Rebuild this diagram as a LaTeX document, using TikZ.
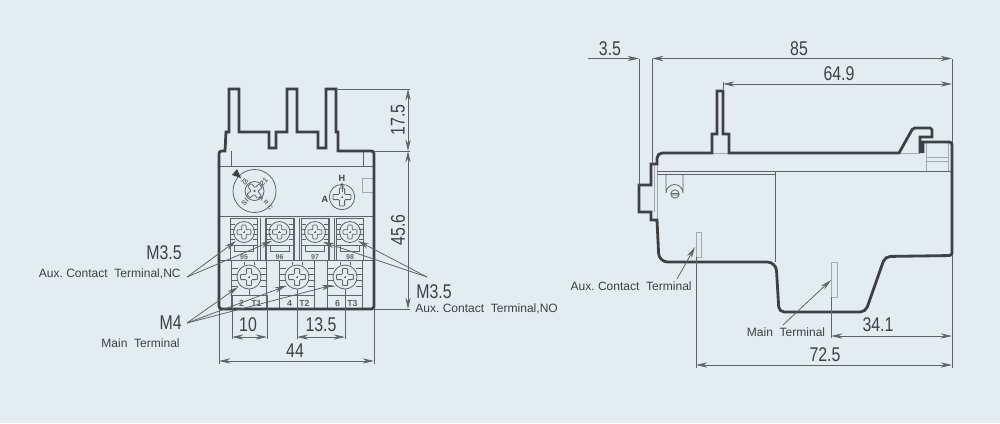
\documentclass[tikz,border=0pt]{standalone}
\usepackage{fontspec}
\setmainfont{Liberation Sans}
\newfontfamily\dimfont[FakeStretch=0.8]{Liberation Sans}
\usetikzlibrary{arrows.meta}
\definecolor{sheet}{HTML}{E3ECF1}
\definecolor{ink}{HTML}{404040}
\definecolor{thin}{HTML}{606467}
\definecolor{pale}{HTML}{A3A9AD}

\newcommand{\crosshead}[5]{%
    \draw[part, shift={(#1,#2)}, rotate=#5, rounded corners=0.5pt]
        (-#3,-#4) -- (-#4,-#4) -- (-#4,-#3) -- (#4,-#3) -- (#4,-#4) -- (#3,-#4)
        -- (#3,#4) -- (#4,#4) -- (#4,#3) -- (-#4,#3) -- (-#4,#4) -- (-#3,#4) -- cycle;
    \draw[part, shift={(#1,#2)}, rotate=#5] (-1.2,0) -- (1.2,0) (0,-1.2) -- (0,1.2);
}

\begin{document}
\begin{tikzpicture}[
        x=0.02cm, y=-0.02cm,
        outline/.style={draw=ink, line width=1.6pt, line join=miter},
        part/.style={draw=thin, line width=0.45pt},
        faint/.style={draw=pale, line width=0.55pt},
        extline/.style={draw=thin, line width=0.4pt},
        dimline/.style={draw=thin, line width=0.45pt, <->, >={Stealth[length=6.5pt,width=3pt]}},
        leader/.style={draw=thin, line width=0.45pt, ->, >={Stealth[length=6.5pt,width=3pt]}},
        dimtext/.style={font=\dimfont\fontsize{11.3}{12}\selectfont, text=ink, inner sep=0pt},
        sizetext/.style={dimtext, rotate=90},
        notetext/.style={font=\fontsize{6.85}{8}\selectfont, text=ink, inner sep=0pt},
        tinytext/.style={font=\bfseries\fontsize{4}{5}\selectfont, text=thin, inner sep=0pt},
    ]
        \fill[sheet] (0,0) rectangle (1000,423);
        \useasboundingbox (0,0) rectangle (1000,423);

        % front view
        \draw[part] (219,166) -- (374,166) (231,151) -- (231,166) (363,151) -- (363,166);
        \draw[part] (219,216) -- (374,216) (219,260) -- (374,260);
        \draw[faint] (362,178) rectangle (373,192);
        \draw[part] (254.5,191) circle (21.5) (254.5,191) circle (9.5);
        \crosshead{254.5}{191}{8}{2.4}{40}
        \fill[ink] (241,178) -- (232,175) -- (237,169) -- cycle;
        \node[tinytext, rotate=-45] (dialIS) at (245,182) {IS};
        \node[tinytext, rotate=45] (dialTwo) at (264,182) {21};
        \node[tinytext, rotate=-45, font=\bfseries\fontsize{3.4}{4}\selectfont] (dialARC) at (266,203) {A\kern1pt R\kern1pt C};
        \node[tinytext, rotate=45] (dialSI) at (245,202) {SI};
        \draw[part] (342,197) circle (12.7);
        \crosshead{342}{197}{9}{2.6}{0}
        \draw[part, ->, >={Stealth[length=3pt,width=2pt]}] (342,192) -- (342,182);
        \node[tinytext, font=\bfseries\fontsize{5.2}{6}\selectfont, text=ink] (dialH) at (342,178) {H};
        \node[tinytext, font=\bfseries\fontsize{5.2}{6}\selectfont, text=ink] (dialA) at (325,199) {A};

        \foreach \xc/\lab in {244/95, 279.5/96, 315/97, 350/98} {
            \draw[part] (\xc-13.5,218) rectangle (\xc+13.5,245);
            \draw[part] (\xc-13.5,245) -- (\xc-13.5,260) (\xc+13.5,245) -- (\xc+13.5,260);
            \draw[part] (\xc-9.5,245) rectangle (\xc+9.5,251);
            \draw[part] (\xc,232) circle (10.5);
            \crosshead{\xc}{232}{7}{2.2}{0}
            \foreach \yr in {224, 229, 234, 239} {
                \draw[part] (\xc-13.5,\yr) -- (\xc-9,\yr) (\xc+9,\yr) -- (\xc+13.5,\yr);
            }
            \node[tinytext] at (\xc,257) {\lab};
        }
        \foreach \xs in {260, 265, 294, 299, 329, 334} {
            \draw[part] (\xs,218) -- (\xs,260);
        }
        \foreach \xc/\num/\tn in {249/2/T1, 297/4/T2, 345/6/T3} {
            \draw[part] (\xc-17.5,260) rectangle (\xc+17.5,295);
            \draw[part] (\xc-17.5,295) -- (\xc-17.5,309) (\xc+17.5,295) -- (\xc+17.5,309);
            \draw[part] (\xc,277) circle (12);
            \crosshead{\xc}{277}{8.5}{2.6}{0}
            \foreach \yr in {268, 274, 280, 286} {
                \draw[part] (\xc-17.5,\yr) -- (\xc-11,\yr) (\xc+11,\yr) -- (\xc+17.5,\yr);
            }
            \draw[part] (\xc-5,262) -- (\xc-5,265) (\xc+5,262) -- (\xc+5,265) (\xc,289) -- (\xc,295);
            \node[tinytext, font=\bfseries\fontsize{5}{6}\selectfont] at (\xc-7.5,303.5) {\num};
            \node[tinytext, font=\bfseries\fontsize{5}{6}\selectfont] at (\xc+7.5,303.5) {\tn};
        }

        \draw[outline] (226,132) -- (225,151) [rounded corners=1.5pt] -- (219,151) -- (219,309)
            -- (374,309) -- (374,151) [sharp corners] -- (338,151) -- (338,132) -- (336,132)
            -- (336,89) -- (326,89) -- (326,132) -- (326,148)
            -- (318,148) -- (318,132) -- (297,132) -- (297,89) -- (287,89) -- (287,132)
            -- (276,132) -- (276,148) -- (269,148) -- (269,132) -- (239,132) -- (239,89)
            -- (229,89) -- (229,132) -- cycle;

        \coordinate (pinTop) at (336,89);
        \coordinate (bodyTop) at (374,151);
        \coordinate (bodyBot) at (374,309);
        \coordinate (bodyLeft) at (219,309);
        \coordinate (pinTopEnd) at (410,89);
        \coordinate (bodyTopEnd) at (410,151);
        \coordinate (bodyBotEnd) at (410,309);
        \draw[extline] (pinTop) -- (pinTopEnd);
        \draw[extline] (bodyTop) -- (bodyTopEnd);
        \draw[extline] (bodyBot) -- (bodyBotEnd);
        \coordinate (sizeA) at (408,89);
        \coordinate (sizeB) at (408,151);
        \coordinate (sizeC) at (408,309);
        \draw[dimline] (sizeA) -- (sizeB);
        \draw[dimline] (sizeB) -- (sizeC);
        \node[sizetext] (lblHigh) at (398,120) {17.5};
        \node[sizetext] (lblBody) at (398,230) {45.6};

        \coordinate (tenA) at (232,337);
        \coordinate (tenB) at (267,337);
        \coordinate (thirA) at (297,337);
        \coordinate (thirB) at (345,337);
        \coordinate (wideA) at (219,361);
        \coordinate (wideB) at (374,361);
        \foreach \xs/\ya/\yb in {232/295/339, 267/295/339, 297/295/339, 345/295/339, 219/309/364, 374/309/364} {
            \draw[extline] (\xs,\ya) -- (\xs,\yb);
        }
        \draw[dimline] (tenA) -- (tenB);
        \draw[dimline] (thirA) -- (thirB);
        \draw[dimline] (wideA) -- (wideB);
        \node[dimtext] (lblTen) at (248,325) {10};
        \node[dimtext] (lblThir) at (321,325) {13.5};
        \node[dimtext] (lblWide) at (295,351) {44};

        % callouts on the front view
        \node[dimtext, anchor=east] (screwNC) at (182,253) {M3.5};
        \node[notetext, anchor=east] (noteNC) at (181,273.5) {Aux.\ Contact\ \ Terminal,NC};
        \node[dimtext, anchor=east] (screwMain) at (182,323) {M4};
        \node[notetext, anchor=east] (noteMain) at (180,343) {Main\ \ Terminal};
        \node[dimtext, anchor=west] (screwNO) at (416,292) {M3.5};
        \node[notetext, anchor=west] (noteNO) at (415,308.5) {Aux.\ Contact\ \ Terminal,NO};
        \coordinate (apexNC) at (187,277);
        \coordinate (apexMain) at (187,323);
        \coordinate (apexNO) at (427,277);
        \coordinate (tipNCa) at (236,241);
        \coordinate (tipNCb) at (272,241);
        \coordinate (tipMa) at (238,287);
        \coordinate (tipMb) at (286,286);
        \coordinate (tipMc) at (333,285);
        \coordinate (tipNOa) at (323,242);
        \coordinate (tipNOb) at (358,241);
        \draw[leader] (apexNC) -- (tipNCa);
        \draw[leader] (apexNC) -- (tipNCb);
        \draw[leader] (apexMain) -- (tipMa);
        \draw[leader] (apexMain) -- (tipMb);
        \draw[leader] (apexMain) -- (tipMc);
        \draw[leader] (apexNO) -- (tipNOa);
        \draw[leader] (apexNO) -- (tipNOb);

        % side view
        \draw[faint] (657,155) -- (657,220) (654,164) -- (654,212) (926,142) -- (926,171) (948,142) -- (948,171);
        \draw[faint] (926,157) -- (948,157) (926,161) -- (948,161) (899,153) -- (920,153) (712,153) -- (729,153);
        \draw[part] (657,171) -- (952,171) (657,174) -- (775,174) (775,171) -- (775,262);
        \draw[part] (666,174) -- (666,193) arc (180:360:8.5) -- (683,174);
        \draw[part] (675,194) circle (4.2) (671.5,193.5) -- (678.5,193.5) (671.5,195) -- (678.5,195);
        \draw[faint] (696,232) rectangle (701,257);
        \draw[faint] (831,262) rectangle (837,297);

        \draw[outline] (920,153) -- (920,137) -- (932,137) [rounded corners=1pt] -- (932,128)
            -- (913,128) [sharp corners] -- (899,153) -- (729,153) -- (729,134) -- (723,134)
            -- (723,91) -- (717,91) -- (717,134) -- (712,134) -- (712,153)
            [rounded corners=3pt] -- (657,153) [sharp corners] -- (657,164) -- (651,164) -- (651,185)
            -- (639,185) -- (639,212) -- (651,212) -- (651,220) -- (657,220)
            [rounded corners=5pt] -- (659,262) -- (776,262) [rounded corners=3pt] -- (779,312)
            -- (865.5,312) -- (885,256.5) [rounded corners=1.5pt] -- (952,255.5) -- (952,142)
            [sharp corners] -- (923,142) -- (923,153);

        \coordinate (tabLeft) at (639,185);
        \coordinate (tabRight) at (652,164);
        \coordinate (tabLeftTop) at (639,58.5);
        \coordinate (tabRightTop) at (652,58.5);
        \coordinate (startOut) at (588,58.5);
        \coordinate (rightTop) at (952,58.5);
        \coordinate (rightPin) at (952,84);
        \coordinate (rightBody) at (952,142);
        \coordinate (pinMark) at (723,84);
        \coordinate (pinMarkTop) at (723,82);
        \coordinate (pinMarkBot) at (723,89);
        \draw[extline] (tabLeft) -- (tabLeftTop);
        \draw[extline] (tabRight) -- (tabRightTop);
        \draw[extline] (rightBody) -- (rightTop);
        \draw[extline] (pinMarkTop) -- (pinMarkBot);
        \draw[leader] (startOut) -- (tabLeftTop);
        \draw[dimline] (tabRightTop) -- (rightTop);
        \draw[dimline] (pinMark) -- (rightPin);
        \node[dimtext] (lblTab) at (610,49) {3.5};
        \node[dimtext] (lblLong) at (799,49) {85};
        \node[dimtext] (lblPin) at (839,74) {64.9};

        \coordinate (auxFoot) at (696,257);
        \coordinate (auxEnd) at (696,368);
        \coordinate (mainFoot) at (831,297);
        \coordinate (mainEnd) at (831,338);
        \coordinate (rightFoot) at (952,255);
        \coordinate (rightEnd) at (952,368);
        \draw[extline] (auxFoot) -- (auxEnd);
        \draw[extline] (mainFoot) -- (mainEnd);
        \draw[extline] (rightFoot) -- (rightEnd);
        \coordinate (mainDimA) at (831,336);
        \coordinate (mainDimB) at (952,336);
        \coordinate (auxDimA) at (696,365);
        \coordinate (auxDimB) at (952,365);
        \draw[dimline] (mainDimA) -- (mainDimB);
        \draw[dimline] (auxDimA) -- (auxDimB);
        \node[dimtext] (lblMain) at (878,325) {34.1};
        \node[dimtext] (lblAux) at (825,355) {72.5};

        \node[notetext, anchor=east] (noteAux) at (692,286) {Aux.\ Contact\ \ Terminal};
        \node[notetext] (noteSide) at (786,332) {Main\ \ Terminal};
        \coordinate (auxFrom) at (677,279);
        \coordinate (auxTip) at (695,247);
        \coordinate (mainFrom) at (783,325);
        \coordinate (mainTip) at (831,280);
        \draw[leader] (auxFrom) -- (auxTip);
        \draw[leader] (mainFrom) -- (mainTip);
    \end{tikzpicture}
\end{document}
